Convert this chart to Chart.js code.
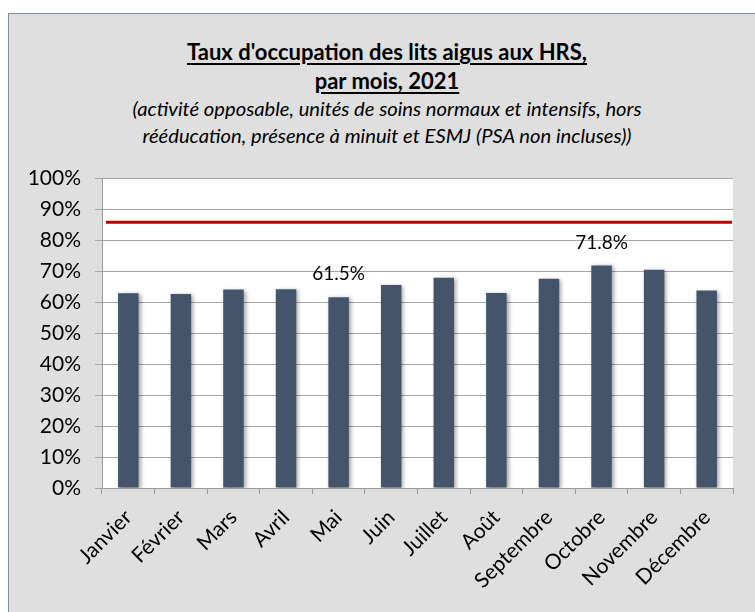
<!DOCTYPE html>
<html>
<head>
<meta charset="utf-8">
<script src="https://cdn.jsdelivr.net/npm/chart.js@4.4.1/dist/chart.umd.min.js"></script>
<style>
html,body{margin:0;padding:0;width:755px;height:612px;overflow:hidden;background:#ffffff;}
#frame{position:absolute;left:8px;top:13px;width:780px;height:640px;background:#dfdfdf;border:1px solid #7d8b9c;}
.t{position:absolute;left:9px;width:756px;text-align:center;color:#000;font-family:Lato,"Open Sans",sans-serif;}
#title{top:37px;font-size:22px;font-weight:bold;line-height:29px;text-decoration:underline;text-underline-offset:3px;}
#subtitle{top:95px;font-size:20.2px;font-style:italic;line-height:27px;}
canvas{position:absolute;left:0;top:0;}
</style>
</head>
<body>
<div id="frame"></div>
<div class="t" id="title">Taux d'occupation des lits aigus aux HRS,<br>par mois, 2021</div>
<div class="t" id="subtitle">(activité opposable, unités de soins normaux et intensifs, hors<br>rééducation, présence à minuit et ESMJ (PSA non incluses))</div>
<canvas id="c" width="755" height="612"></canvas>
<script>
const months = ['Janvier','Février','Mars','Avril','Mai','Juin','Juillet','Août','Septembre','Octobre','Novembre','Décembre'];
const occupancy = [62.8, 62.6, 64.0, 64.1, 61.5, 65.5, 67.8, 62.9, 67.5, 71.8, 70.4, 63.7];
const targetLine = 85.7;
const yTicks = [0,10,20,30,40,50,60,70,80,90,100];

const FONT = 'Lato, "Open Sans", sans-serif';

const plotBg = {
  id:'plotBg',
  beforeDraw(chart){
    const {ctx, chartArea:a} = chart;
    ctx.save(); ctx.fillStyle='#ffffff';
    ctx.fillRect(a.left, a.top, a.right-a.left, a.bottom-a.top);
    ctx.restore();
  }
};
const shadow = {
  id:'shadow',
  beforeDatasetsDraw(chart){
    const ctx = chart.ctx; ctx.save();
    ctx.shadowColor='rgba(0,0,0,0.35)'; ctx.shadowBlur=4; ctx.shadowOffsetX=2; ctx.shadowOffsetY=1;
  },
  afterDatasetsDraw(chart){ chart.ctx.restore(); }
};
const refLine = {
  id:'refLine',
  afterDatasetsDraw(chart){
    const {ctx, chartArea:a, scales} = chart;
    const y = scales.y.getPixelForValue(targetLine);
    ctx.save(); ctx.strokeStyle='#c00000'; ctx.lineWidth=3;
    ctx.beginPath(); ctx.moveTo(a.left+4, y); ctx.lineTo(a.right-1, y); ctx.stroke();
    ctx.restore();
  }
};
const valueLabels = {
  id:'valueLabels',
  afterDatasetsDraw(chart){
    const {ctx} = chart;
    const meta = chart.getDatasetMeta(0);
    const minI = occupancy.indexOf(Math.min(...occupancy));
    const maxI = occupancy.indexOf(Math.max(...occupancy));
    ctx.save(); ctx.font='19px '+FONT; ctx.fillStyle='#000';
    ctx.textAlign='center'; ctx.textBaseline='middle';
    [minI, maxI].forEach(i=>{
      const el = meta.data[i];
      ctx.fillText(occupancy[i].toFixed(1)+'%', el.x, el.y-23);
    });
    ctx.restore();
  }
};

new Chart(document.getElementById('c'), {
  type:'bar',
  data:{ labels: months, datasets:[{ data: occupancy, backgroundColor:'#44546a', barPercentage:0.39, categoryPercentage:1 }]},
  options:{
    responsive:false, animation:false,
    layout:{ padding:{left:0, top:178, right:22, bottom:0} },
    plugins:{ legend:{display:false}, tooltip:{enabled:false}, title:{display:false} },
    scales:{
      x:{
        grid:{ display:true, drawOnChartArea:false, drawTicks:true, tickLength:6, offset:true, color:'#9a9a9a' },
        border:{ color:'#9a9a9a', width:1 },
        ticks:{ color:'#000', font:{family:FONT, size:21}, minRotation:45, maxRotation:45, padding:11, autoSkip:false },
        afterFit(s){ s.height = 124; }
      },
      y:{
        min:0, max:100,
        afterBuildTicks(s){ s.ticks = yTicks.map(v=>({value:v})); },
        grid:{ color:'#a6a6a6', tickLength:7, drawTicks:true },
        border:{ color:'#9a9a9a', width:1 },
        ticks:{ color:'#000', font:{family:FONT, size:21}, padding:14, callback:v=>v+'%' },
        afterFit(s){ s.width = 102; }
      }
    }
  },
  plugins:[plotBg, shadow, refLine, valueLabels]
});
</script>
</body>
</html>
